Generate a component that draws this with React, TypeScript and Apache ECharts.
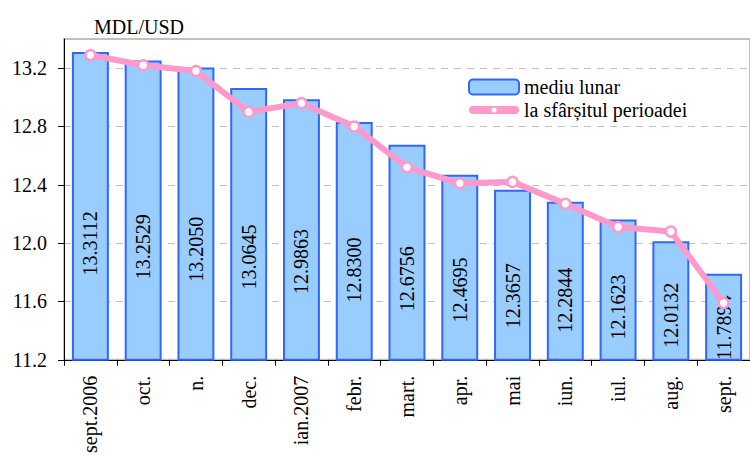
import React, { useEffect, useRef } from "react";
import * as echarts from "echarts";

const categories = ["sept.2006", "oct.", "n.", "dec.", "ian.2007", "febr.", "mart.", "apr.", "mai", "iun.", "iul.", "aug.", "sept."];
const monthlyAverage = [13.3112, 13.2529, 13.205, 13.0645, 12.9863, 12.83, 12.6756, 12.4695, 12.3657, 12.2844, 12.1623, 12.0132, 11.7894];
const endOfPeriod = [13.29, 13.22, 13.18, 12.9, 12.96, 12.8, 12.52, 12.41, 12.42, 12.27, 12.11, 12.08, 11.59];
const unitLabel = "MDL/USD";
const seriesNames = ["mediu lunar", "la sfârșitul perioadei"];

const FONT = "Liberation Serif";
const LINE_ICON =
  "path://M0,0 L0,0 Z M0,15 L0,15 Z M4,3.5 L46,3.5 A4,4 0 0 1 46,11.5 L4,11.5 A4,4 0 0 1 4,3.5 Z M22.5,7.5 A2.5,2.5 0 1 0 27.5,7.5 A2.5,2.5 0 1 0 22.5,7.5 Z M50,0 L50,0 Z";

export default function App() {
  const ref = useRef<HTMLDivElement>(null);
  useEffect(() => {
    if (!ref.current) return;
    const chart = echarts.init(ref.current, null, { renderer: "svg" });
    chart.setOption({
      animation: false,
      title: {
        text: unitLabel,
        left: 89,
        top: 12,
        textStyle: { fontFamily: FONT, fontSize: 20, fontWeight: "normal", color: "#000" },
      },
      legend: {
        orient: "vertical",
        left: 463,
        top: 72,
        itemWidth: 50,
        itemHeight: 15,
        itemGap: 3,
        textStyle: { fontFamily: FONT, fontSize: 20, color: "#000" },
        data: [
          { name: seriesNames[0] },
          {
            name: seriesNames[1],
            icon: LINE_ICON,
            itemStyle: { color: "#ff99cc", borderWidth: 0 },
          },
        ],
      },
      grid: {
        left: 64,
        top: 39,
        right: -4,
        bottom: 95,
        show: true,
        borderColor: "#c0c0c0",
        borderWidth: 2,
        backgroundColor: "transparent",
      },
      xAxis: {
        type: "category",
        data: categories,
        boundaryGap: true,
        axisLine: { lineStyle: { color: "#000", width: 1 } },
        axisTick: { show: true, alignWithLabel: false, length: 6, lineStyle: { color: "#000" } },
        axisLabel: {
          rotate: 90,
          margin: 16,
          interval: 0,
          fontFamily: FONT,
          fontSize: 20,
          color: "#000",
        },
      },
      yAxis: {
        type: "value",
        min: 11.2,
        max: 13.4,
        interval: 0.4,
        axisLine: { show: true, lineStyle: { color: "#000", width: 1 } },
        axisTick: { show: true, length: 6, lineStyle: { color: "#000" } },
        axisLabel: {
          showMaxLabel: false,
          margin: 17,
          fontFamily: FONT,
          fontSize: 20,
          color: "#000",
          formatter: (v: number) => v.toFixed(1),
        },
        splitLine: { show: true, lineStyle: { color: "#c0c0c0", type: [7, 6], width: 1 } },
      },
      series: [
        {
          name: seriesNames[0],
          type: "bar",
          data: monthlyAverage,
          barCategoryGap: "30%",
          itemStyle: { color: "#99ccff", borderColor: "#3366ff", borderWidth: 2 },
          label: {
            show: true,
            position: ["50%", "62%"],
            rotate: 90,
            align: "center",
            verticalAlign: "middle",
            fontFamily: FONT,
            fontSize: 20,
            color: "#000",
            formatter: (p: any) => p.value.toFixed(4),
          },
          z: 2,
        },
        {
          name: seriesNames[1],
          type: "line",
          data: endOfPeriod,
          symbol: "circle",
          symbolSize: 10,
          lineStyle: { color: "#ff99cc", width: 6 },
          itemStyle: { color: "#ffffff", borderColor: "#ff99cc", borderWidth: 2.5 },
          z: 5,
        },
      ],
    });
    return () => chart.dispose();
  }, []);
  return <div ref={ref} style={{ width: 750, height: 456, position: "absolute", left: 0, top: 0 }} />;
}
